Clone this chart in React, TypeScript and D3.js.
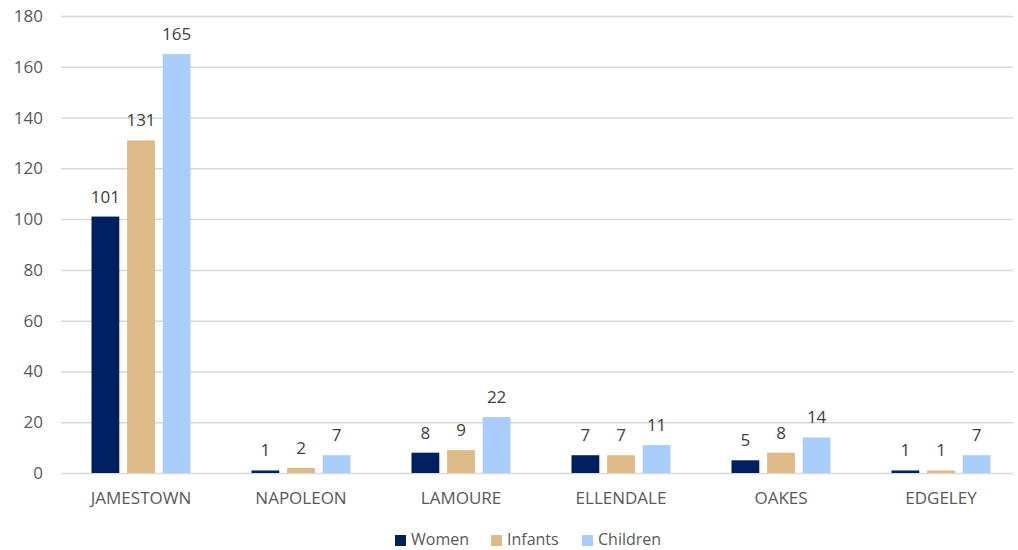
import { useEffect, useRef } from "react";
import * as d3 from "d3";

const categories = ["JAMESTOWN", "NAPOLEON", "LAMOURE", "ELLENDALE", "OAKES", "EDGELEY"];
const seriesNames = ["Women", "Infants", "Children"];
const women = [101, 1, 8, 7, 5, 1];
const infants = [131, 2, 9, 7, 8, 1];
const children = [165, 7, 22, 11, 14, 7];
const colors = ["#002060", "#DEBA86", "#A8CDFB"];
const yTicks = [0, 20, 40, 60, 80, 100, 120, 140, 160, 180];

const W = 1018;
const H = 550;
const FONT = "'Open Sans', 'Liberation Sans', sans-serif";

export default function App() {
  const svgRef = useRef<SVGSVGElement>(null);

  useEffect(() => {
    if (!svgRef.current) return;
    const svg = d3.select(svgRef.current);
    svg.selectAll("*").remove();

    const margin = { top: 16, left: 61 };
    const width = 960; // category bands run a little past the picture's right edge
    const gridRight = 952;
    const height = 473 - margin.top;

    const g = svg.append("g").attr("transform", `translate(${margin.left},${margin.top})`);

    const series = [women, infants, children];

    const x0 = d3.scaleBand().domain(categories).range([0, width]);
    const x1 = d3
      .scaleBand()
      .domain(seriesNames)
      .range([0, 99])
      .paddingInner(0.22);
    const y = d3.scaleLinear().domain([0, 180]).range([height, 0]);

    // gridlines
    g.append("g")
      .selectAll("line")
      .data(yTicks)
      .join("line")
      .attr("x1", 0)
      .attr("x2", gridRight)
      .attr("y1", (d) => y(d) + 0.5)
      .attr("y2", (d) => y(d) + 0.5)
      .attr("stroke", "#d9d9d9")
      .attr("stroke-width", 1.5);

    // y tick labels
    g.append("g")
      .selectAll("text")
      .data(yTicks)
      .join("text")
      .attr("x", -18)
      .attr("y", (d) => y(d))
      .attr("dy", "0.35em")
      .attr("text-anchor", "end")
      .style("font-family", FONT)
      .style("font-size", "17px")
      .style("fill", "#595959")
      .text((d) => d);

    // bars
    const groups = g
      .selectAll("g.cat")
      .data(categories)
      .join("g")
      .attr("class", "cat")
      .attr("transform", (c) => `translate(${(x0(c) ?? 0) + x0.bandwidth() / 2 - 49.5},0)`);

    groups.each(function (_c, i) {
      const grp = d3.select(this);
      seriesNames.forEach((s, k) => {
        const v = series[k][i];
        grp
          .append("rect")
          .attr("x", x1(s) ?? 0)
          .attr("y", y(v))
          .attr("width", x1.bandwidth())
          .attr("height", y(0) - y(v))
          .attr("fill", colors[k]);
        grp
          .append("text")
          .attr("x", (x1(s) ?? 0) + x1.bandwidth() / 2)
          .attr("y", y(v) - 14)
          .attr("text-anchor", "middle")
          .style("font-family", FONT)
          .style("font-size", "17px")
          .style("fill", "#404040")
          .text(v);
      });
    });

    // x labels
    g.append("g")
      .selectAll("text")
      .data(categories)
      .join("text")
      .attr("x", (c) => (x0(c) ?? 0) + x0.bandwidth() / 2)
      .attr("y", height + 31)
      .attr("text-anchor", "middle")
      .style("font-family", FONT)
      .style("font-size", "17px")
      .style("fill", "#595959")
      .text((c) => c);

    // legend
    const legendX = [395, 491, 582];
    const legend = svg.append("g");
    seriesNames.forEach((s, k) => {
      legend
        .append("rect")
        .attr("x", legendX[k])
        .attr("y", 535)
        .attr("width", 11)
        .attr("height", 11)
        .attr("fill", colors[k]);
      legend
        .append("text")
        .attr("x", legendX[k] + 16)
        .attr("y", 545)
        .style("font-family", FONT)
        .style("font-size", "16px")
        .style("fill", "#595959")
        .text(s);
    });
  }, []);

  return (
    <div style={{ position: "absolute", left: 0, top: 0 }}>
      <svg ref={svgRef} width={W} height={H} style={{ display: "block", background: "#fff" }} />
    </div>
  );
}
